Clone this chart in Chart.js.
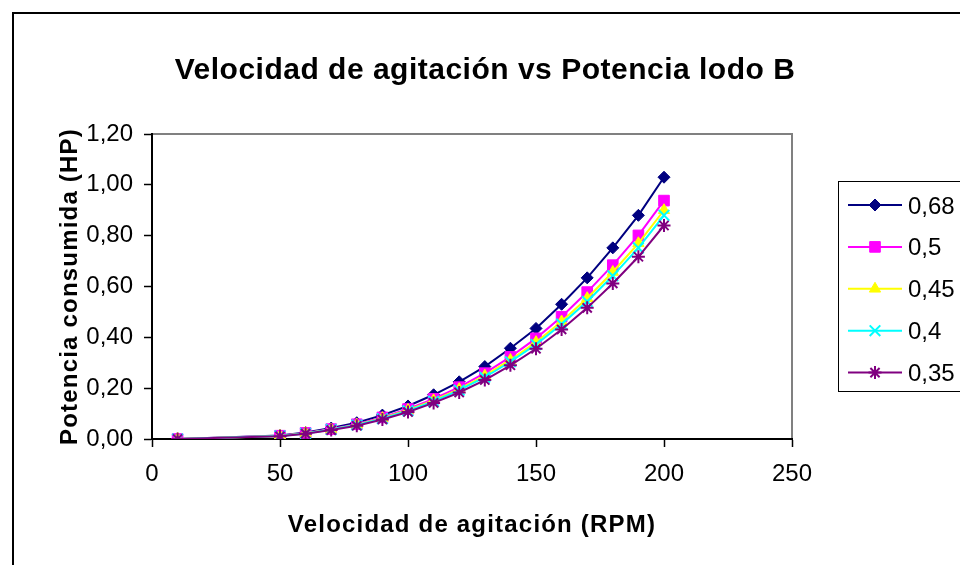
<!DOCTYPE html>
<html>
<head>
<meta charset="utf-8">
<title>Velocidad de agitación vs Potencia lodo B</title>
<script src="https://cdn.jsdelivr.net/npm/chart.js@4.4.0/dist/chart.umd.min.js"></script>
<style>
  html, body { margin: 0; padding: 0; background: #fff; }
  canvas { display: block; }
</style>
</head>
<body>
<canvas id="myChart" width="960" height="565"></canvas>
<script>
// velocidad de agitación (RPM)
const rpm = [10, 50, 60, 70, 80, 90, 100, 110, 120, 130, 140, 150, 160, 170, 180, 190, 200];

// potencia consumida (HP) por serie
const potencia068 = [0.000, 0.014, 0.026, 0.043, 0.064, 0.094, 0.130, 0.174, 0.225, 0.285, 0.357, 0.435, 0.530, 0.634, 0.752, 0.880, 1.030];
const potencia050 = [0.000, 0.013, 0.024, 0.039, 0.058, 0.085, 0.118, 0.158, 0.204, 0.259, 0.323, 0.396, 0.481, 0.578, 0.684, 0.801, 0.938];
const potencia045 = [0.000, 0.012, 0.023, 0.037, 0.056, 0.082, 0.114, 0.152, 0.196, 0.249, 0.311, 0.381, 0.462, 0.554, 0.657, 0.770, 0.900];
const potencia040 = [0.000, 0.012, 0.022, 0.037, 0.055, 0.080, 0.111, 0.148, 0.192, 0.243, 0.304, 0.372, 0.452, 0.541, 0.642, 0.752, 0.880];
const potencia035 = [0.000, 0.011, 0.021, 0.035, 0.052, 0.077, 0.106, 0.142, 0.183, 0.232, 0.290, 0.355, 0.431, 0.516, 0.612, 0.717, 0.840];

const seriesLabels = ['0,68', '0,5', '0,45', '0,4', '0,35'];

const xTickValues = [0, 50, 100, 150, 200, 250];
const xTickLabels = ['0', '50', '100', '150', '200', '250'];
const yTickValues = [0, 0.2, 0.4, 0.6, 0.8, 1.0, 1.2];
const yTickLabels = ['0,00', '0,20', '0,40', '0,60', '0,80', '1,00', '1,20'];

const FONT = '"Liberation Sans", Arial, sans-serif';

const seriesValues = [potencia068, potencia050, potencia045, potencia040, potencia035];
const colors = ['#000080', '#FF00FF', '#FFFF00', '#00FFFF', '#800080'];
const markers = ['rectRot', 'rect', 'triangle', 'crossRot', 'star'];
const markerSize = [6, 7.5, 6.5, 7.5, 6.5];

const datasets = seriesValues.map((vals, i) => ({
    label: seriesLabels[i],
    data: rpm.map((x, j) => ({ x: x, y: vals[j] })),
    showLine: true,
    borderColor: colors[i],
    backgroundColor: colors[i],
    borderWidth: 2,
    tension: 0,
    pointStyle: markers[i],
    pointRadius: markerSize[i],
    pointBorderWidth: (markers[i] === 'crossRot' || markers[i] === 'star') ? 2 : 1,
    pointBackgroundColor: colors[i],
    pointBorderColor: colors[i],
    // later series painted on top
    order: seriesValues.length - i
}));

// frame, titles and legend box
const chartDecor = {
    id: 'chartDecor',
    beforeDraw(chart) {
        const { ctx, chartArea: a } = chart;
        ctx.save();
        ctx.fillStyle = '#fff';
        ctx.fillRect(0, 0, chart.width, chart.height);
        ctx.strokeStyle = '#000';
        ctx.lineWidth = 2;
        ctx.strokeRect(13, 13, 1000, 600);
        ctx.strokeStyle = '#808080';
        ctx.lineWidth = 2;
        ctx.strokeRect(a.left, a.top, a.right - a.left, a.bottom - a.top);
        ctx.restore();
    },
    afterDraw(chart) {
        const { ctx, chartArea: a } = chart;
        ctx.save();
        ctx.fillStyle = '#000';

        ctx.font = 'bold 30px ' + FONT;
        ctx.letterSpacing = '0.5px';
        ctx.textAlign = 'center';
        ctx.textBaseline = 'alphabetic';
        ctx.fillText('Velocidad de agitación vs Potencia lodo B', 485, 79);

        ctx.font = 'bold 24px ' + FONT;
        ctx.letterSpacing = '1.2px';
        ctx.fillText('Velocidad de agitación (RPM)', (a.left + a.right) / 2, 532);

        ctx.save();
        ctx.translate(77, (a.top + a.bottom) / 2);
        ctx.rotate(-Math.PI / 2);
        ctx.fillText('Potencia consumida (HP)', 0, 0);
        ctx.restore();

        // legend
        ctx.letterSpacing = '0px';
        ctx.strokeStyle = '#000';
        ctx.lineWidth = 1;
        ctx.strokeRect(838.5, 181.5, 200, 210);
        ctx.font = '24px ' + FONT;
        ctx.textAlign = 'left';
        chart.data.datasets.forEach((ds, i) => {
            const y = 205 + i * 41.9;
            ctx.strokeStyle = ds.borderColor;
            ctx.lineWidth = 2;
            ctx.beginPath();
            ctx.moveTo(848, y);
            ctx.lineTo(902, y);
            ctx.stroke();
            ctx.fillStyle = ds.pointBackgroundColor;
            ctx.strokeStyle = ds.pointBorderColor;
            ctx.lineWidth = ds.pointBorderWidth;
            Chart.helpers.drawPoint(ctx, {
                pointStyle: ds.pointStyle,
                radius: ds.pointRadius,
                rotation: 0,
                borderWidth: ds.pointBorderWidth
            }, 875, y);
            ctx.fillStyle = '#000';
            ctx.fillText(ds.label, 908, y + 8.5);
        });
        ctx.restore();
    }
};

const ctx = document.getElementById('myChart').getContext('2d');
const myChart = new Chart(ctx, {
    type: 'scatter',
    data: { datasets: datasets },
    plugins: [chartDecor],
    options: {
        responsive: false,
        animation: false,
        devicePixelRatio: 1,
        layout: { padding: { left: 0, top: 134, right: 168, bottom: 0 } },
        plugins: {
            legend: { display: false },
            title: { display: false },
            tooltip: { enabled: false }
        },
        scales: {
            x: {
                type: 'linear',
                min: 0,
                max: 250,
                afterBuildTicks: (s) => { s.ticks = xTickValues.map(v => ({ value: v })); },
                afterFit: (s) => { s.height = 126; },
                ticks: {
                    color: '#000',
                    font: { family: FONT, size: 24 },
                    padding: 13,
                    maxRotation: 0,
                    autoSkip: false,
                    callback: (v, i) => xTickLabels[i]
                },
                grid: { drawOnChartArea: false, tickLength: 8, tickColor: '#000', tickWidth: 1.5 },
                border: { color: '#000', width: 2 }
            },
            y: {
                min: 0,
                max: 1.2,
                afterBuildTicks: (s) => { s.ticks = yTickValues.map(v => ({ value: v })); },
                afterFit: (s) => { s.width = 152; },
                ticks: {
                    color: '#000',
                    font: { family: FONT, size: 24 },
                    padding: 11,
                    autoSkip: false,
                    callback: (v, i) => yTickLabels[i]
                },
                grid: { drawOnChartArea: false, tickLength: 8, tickColor: '#000', tickWidth: 1.5 },
                border: { color: '#000', width: 2 }
            }
        }
    }
});
</script>
</body>
</html>
